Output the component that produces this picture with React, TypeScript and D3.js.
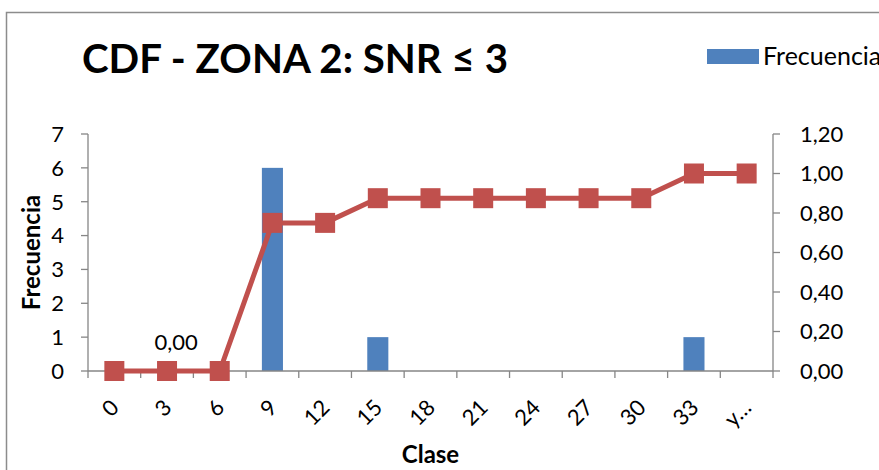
import React from 'react';
import * as d3 from 'd3';

const width = 879;
const height = 470;

const classes = ['0', '3', '6', '9', '12', '15', '18', '21', '24', '27', '30', '33', 'y…'];
const frequency = [0, 0, 0, 6, 0, 1, 0, 0, 0, 0, 0, 1, 0];
const cumulative = [0, 0, 0, 0.75, 0.75, 0.875, 0.875, 0.875, 0.875, 0.875, 0.875, 1, 1];
const leftTicks = [0, 1, 2, 3, 4, 5, 6, 7];
const rightTicks = [0, 0.2, 0.4, 0.6, 0.8, 1.0, 1.2];

const margin = { top: 134, right: 106, bottom: 99, left: 88 };
const font = "Lato, Calibri, 'Open Sans', sans-serif";
const axisColor = '#868686';
const barColor = '#4F81BD';
const lineColor = '#C0504D';

const fmt = (v: number) => v.toFixed(2).replace('.', ',');

export default function App() {
  const x0 = margin.left;
  const x1 = width - margin.right;
  const y0 = height - margin.bottom;
  const y1 = margin.top;

  const x = d3.scaleBand<string>().domain(classes).range([x0, x1]);
  const yLeft = d3.scaleLinear().domain([0, 7]).range([y0, y1]);
  const yRight = d3.scaleLinear().domain([0, 1.2]).range([y0, y1]);
  const cx = (c: string) => (x(c) as number) + x.bandwidth() / 2;
  const barW = x.bandwidth() * 0.4;

  const line = d3
    .line<number>()
    .x((d, i) => cx(classes[i]))
    .y(d => yRight(d));

  const bounds = classes.map(c => x(c) as number).concat([x1]);

  return (
    <svg width={width} height={height} style={{ position: 'absolute', left: 0, top: 0 }}>
      <rect width={width} height={height} fill="#fff" />
      {/* chart frame */}
      <path d={`M6.5,${height} V12.5 H${width}`} fill="none" stroke="#8c8c8c" strokeWidth={1.5} />

      <text x={82} y={73} fontFamily={font} fontWeight="bold" fontSize={41} textLength={426} lengthAdjust="spacingAndGlyphs" fill="#000">
        CDF - ZONA 2: SNR ≤ 3
      </text>

      {/* legend */}
      <rect x={707} y={49} width={52} height={15} fill={barColor} />
      <text x={763} y={65} fontFamily={font} fontSize={25} fill="#000">Frecuencia</text>

      {/* bars */}
      {frequency.map((v, i) => (
        <rect
          key={i}
          x={cx(classes[i]) - barW / 2}
          y={yLeft(v)}
          width={barW}
          height={y0 - yLeft(v)}
          fill={barColor}
        />
      ))}

      {/* axes */}
      <line x1={x0} x2={x0} y1={y1} y2={y0} stroke={axisColor} strokeWidth={1.3} />
      <line x1={x1} x2={x1} y1={y1} y2={y0} stroke={axisColor} strokeWidth={1.3} />
      <line x1={x0} x2={x1} y1={y0} y2={y0} stroke={axisColor} strokeWidth={1.3} />
      {leftTicks.map(t => (
        <g key={'l' + t}>
          <line x1={x0 - 7} x2={x0} y1={yLeft(t)} y2={yLeft(t)} stroke={axisColor} strokeWidth={1.3} />
          <text x={64} y={yLeft(t)} dy="0.36em" textAnchor="end" fontFamily={font} fontSize={22} fill="#000">{t}</text>
        </g>
      ))}
      {rightTicks.map(t => (
        <g key={'r' + t}>
          <line x1={x1} x2={x1 + 7} y1={yRight(t)} y2={yRight(t)} stroke={axisColor} strokeWidth={1.3} />
          <text x={800} y={yRight(t)} dy="0.36em" fontFamily={font} fontSize={22} fill="#000">{fmt(t)}</text>
        </g>
      ))}
      {bounds.map((b, i) => (
        <line key={'b' + i} x1={b} x2={b} y1={y0} y2={y0 + 7} stroke={axisColor} strokeWidth={1.3} />
      ))}
      {classes.map(c => (
        <text
          key={'c' + c}
          transform={`translate(${cx(c) + 6},${y0 + 38}) rotate(-45)`}
          textAnchor="end"
          fontFamily={font}
          fontSize={22}
          fill="#000"
        >
          {c}
        </text>
      ))}

      {/* cumulative line */}
      <path d={line(cumulative) || ''} fill="none" stroke={lineColor} strokeWidth={5} strokeLinejoin="round" />
      {cumulative.map((v, i) => (
        <rect key={'m' + i} x={cx(classes[i]) - 10} y={yRight(v) - 10} width={20} height={20} fill={lineColor} />
      ))}
      <text x={cx(classes[1]) + 9} y={yRight(cumulative[1]) - 21} textAnchor="middle" fontFamily={font} fontSize={22} fill="#000">
        {fmt(cumulative[1])}
      </text>

      {/* axis titles */}
      <text x={(x0 + x1) / 2} y={463} textAnchor="middle" fontFamily={font} fontWeight="bold" fontSize={24} fill="#000">Clase</text>
      <text
        transform={`translate(40,${(y0 + y1) / 2}) rotate(-90)`}
        textAnchor="middle"
        fontFamily={font}
        fontWeight="bold"
        fontSize={24}
        fill="#000"
      >
        Frecuencia
      </text>
    </svg>
  );
}
